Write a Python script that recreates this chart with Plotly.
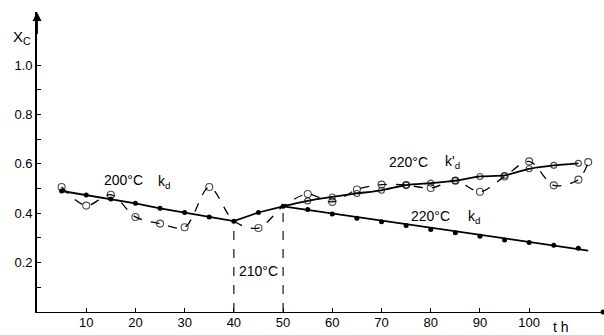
import plotly.graph_objects as go

# --- data -----------------------------------------------------------------
# measured conversion (open circles, dashed curve)
t_meas = [5, 10, 15, 20, 25, 30, 35, 40, 45, 50, 55, 60, 65, 70, 75, 80, 85, 90, 95, 100, 105, 110, 112]
x_meas = [0.506, 0.431, 0.475, 0.385, 0.358, 0.343, 0.506, 0.368, 0.34, 0.428, 0.478, 0.446, 0.496,
          0.516, 0.514, 0.502, 0.532, 0.487, 0.549, 0.61, 0.513, 0.536, 0.607]

# k_d model points (filled dots)
t_kd200 = [5, 10, 15, 20, 25, 30, 35, 40]
x_kd200 = [0.49, 0.474, 0.458, 0.44, 0.42, 0.403, 0.385, 0.368]
t_kd210 = [40, 45, 50]
x_kd210 = [0.368, 0.403, 0.428]
t_kd220 = [55, 60, 65, 70, 75, 80, 85, 90, 95, 100, 105, 110]
x_kd220 = [0.415, 0.397, 0.38, 0.366, 0.35, 0.334, 0.321, 0.307, 0.292, 0.281, 0.27, 0.258]
t_kd220_line = [50, 112]
x_kd220_line = [0.428, 0.249]

# k'_d model at 220 C (open circles on solid curve)
t_kpd = [50, 55, 60, 65, 70, 75, 80, 85, 90, 95, 100, 105, 110]
x_kpd = [0.428, 0.45, 0.466, 0.48, 0.493, 0.514, 0.522, 0.532, 0.549, 0.553, 0.58, 0.594, 0.602]

# vertical markers of the temperature steps
t_steps = [40, 50]
x_steps = [0.368, 0.428]

FONT = "Liberation Sans"

fig = go.Figure()

# dashed measured curve (no open circle where it meets the step points)
meas_sizes = [0 if t in t_steps else 7 for t in t_meas]
fig.add_trace(go.Scatter(x=t_meas, y=x_meas, mode="lines+markers",
                         line=dict(color="black", width=1.3, dash="dash", shape="spline", smoothing=0.9),
                         marker=dict(symbol="circle-open", size=meas_sizes, color="black", line=dict(width=1.1)),
                         cliponaxis=False))

# k'_d solid curve
kpd_sizes = [0 if t in t_steps else 6 for t in t_kpd]
fig.add_trace(go.Scatter(x=t_kpd, y=x_kpd, mode="lines+markers",
                         line=dict(color="black", width=1.8, shape="spline", smoothing=0.6),
                         marker=dict(symbol="circle-open", size=kpd_sizes, color="black", line=dict(width=1.1))))

# k_d straight lines + filled dots
fig.add_trace(go.Scatter(x=t_kd200 + t_kd210[1:], y=x_kd200 + x_kd210[1:], mode="lines+markers",
                         line=dict(color="black", width=1.8),
                         marker=dict(symbol="circle", size=5, color="black")))
fig.add_trace(go.Scatter(x=t_kd220_line, y=x_kd220_line, mode="lines",
                         line=dict(color="black", width=1.8)))
fig.add_trace(go.Scatter(x=t_kd220, y=x_kd220, mode="markers",
                         marker=dict(symbol="circle", size=5, color="black")))

# vertical dashed lines at the temperature steps
for ts, xs in zip(t_steps, x_steps):
    fig.add_trace(go.Scatter(x=[ts, ts], y=[0, xs], mode="lines",
                             line=dict(color="black", width=1.1, dash="dash")))

# end dot of the x axis
fig.add_trace(go.Scatter(x=[115], y=[0], mode="markers", cliponaxis=False,
                         marker=dict(symbol="circle", size=5, color="black")))

txt = dict(showarrow=False, font=dict(family=FONT, size=14, color="black"))
fig.add_annotation(x=17.5, y=0.535, text="200°C", **txt)
fig.add_annotation(x=25.8, y=0.528, text="k<sub>d</sub>", **txt)
fig.add_annotation(x=45, y=0.165, text="210°C", **txt)
fig.add_annotation(x=75.4, y=0.607, text="220°C", **txt)
fig.add_annotation(x=84.5, y=0.607, text="k'<sub>d</sub>", **txt)
fig.add_annotation(x=80, y=0.39, text="220°C", **txt)
fig.add_annotation(x=88.8, y=0.383, text="k<sub>d</sub>", **txt)

# axis labels
fig.add_annotation(xref="paper", yref="paper", x=-0.026, y=0.915, xanchor="center", yanchor="middle",
                   text="X<sub>C</sub>", showarrow=False, font=dict(family=FONT, size=15, color="black"))
fig.add_annotation(xref="paper", yref="paper", x=0.926, y=-0.05, xanchor="center", yanchor="middle",
                   text="t h", **txt)

# arrow on top of the y axis
fig.add_annotation(x=0, y=1.215, ax=0, ay=1.12, axref="x", ayref="y", showarrow=True,
                   arrowhead=2, arrowsize=1, arrowwidth=1.8, arrowcolor="black", text="")

fig.update_layout(
    width=604, height=335,
    margin=dict(l=37, r=1, t=12, b=23),
    paper_bgcolor="white", plot_bgcolor="white",
    showlegend=False,
    font=dict(family=FONT, size=13, color="black"),
)
fig.update_xaxes(range=[0, 115], showgrid=False, zeroline=False,
                 showline=True, linecolor="black", linewidth=1.3,
                 tickvals=[10, 20, 30, 40, 50, 60, 70, 80, 90, 100],
                 ticks="inside", ticklen=4, tickcolor="black", tickfont=dict(size=13),
                 ticklabelstandoff=-2)
fig.update_yaxes(range=[0, 1.215], showgrid=False, zeroline=False,
                 showline=True, linecolor="black", linewidth=1.8,
                 tickvals=[0.1, 0.2, 0.3, 0.4, 0.5, 0.6, 0.7, 0.8, 0.9, 1.0],
                 ticktext=["", "0.2", "", "0.4", "", "0.6", "", "0.8", "", "1.0"],
                 ticks="inside", ticklen=4, tickcolor="black", tickfont=dict(size=13))

# remove the default page margin so the figure sits at the window corner
fig.write_html("out.html", config={"displayModeBar": False},
               post_script="document.body.style.margin='0';")
